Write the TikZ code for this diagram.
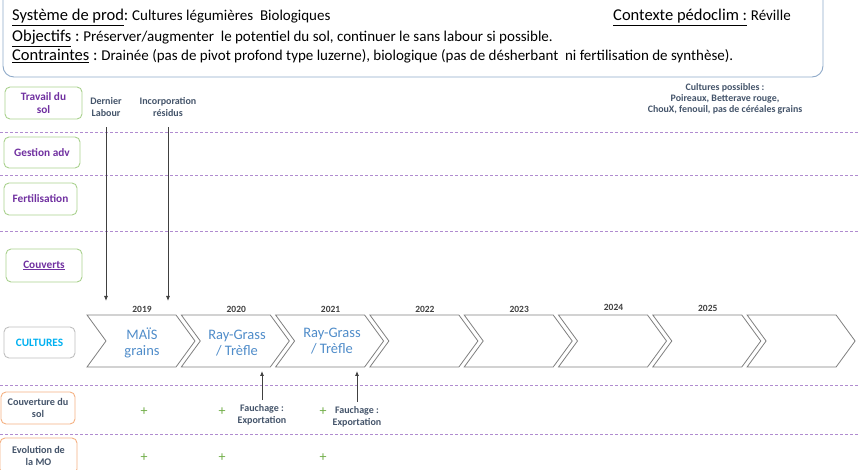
\documentclass[tikz,border=0pt]{standalone}
\usepackage{fontspec}
\setmainfont{Carlito}
\usetikzlibrary{arrows.meta}
\definecolor{labpurple}{HTML}{7030A0}
\definecolor{boxgreen}{HTML}{A9D18E}
\definecolor{dashpurple}{HTML}{B08CD0}
\definecolor{slate}{HTML}{44546A}
\definecolor{cyanlab}{HTML}{00B0F0}
\definecolor{orangebox}{HTML}{F4B183}
\definecolor{graybox}{HTML}{BFBFBF}
\definecolor{cropblue}{HTML}{4F8CC9}
\definecolor{topborder}{HTML}{8EA9C8}
\definecolor{plusgreen}{HTML}{70AD47}
\definecolor{chevgray}{HTML}{7F7F7F}
\begin{document}
\begin{tikzpicture}[x=1pt,y=-1pt,
  lab/.style={draw=boxgreen, line width=0.9pt, rounded corners=5pt, align=center,
    font=\fontsize{11.3}{12.5}\selectfont\bfseries, text=labpurple, inner sep=1pt},
  sep/.style={dashpurple, dash pattern=on 3pt off 2pt, line width=0.7pt},
  note/.style={align=center, font=\fontsize{10}{12}\selectfont\bfseries, text=slate},
  yr/.style={font=\fontsize{9.5}{10}\selectfont\bfseries, text=black!75},
  crop/.style={align=center, font=\fontsize{14.5}{16.5}\selectfont, text=cropblue},
  chev/.style={draw=chevgray, line width=0.8pt},
  arr/.style={draw=black!75, line width=0.8pt, -{Latex[length=5pt,width=4pt]}},
  plus/.style={text=plusgreen, font=\fontsize{14}{14}\selectfont},
  head/.style={anchor=base west, font=\fontsize{16.5}{19}\selectfont, inner sep=0pt},
  body/.style={anchor=base west, font=\fontsize{15}{17}\selectfont, inner sep=0pt}
]
\useasboundingbox (0,0) rectangle (860,470);
% top box
\draw[topborder, line width=0.9pt, rounded corners=11pt] (3,-12) rectangle (823,77);
\node[head] (h1) at (12,21) {\underline{Système de prod}:};
\node[body] (b1) at (h1.base east) {\ Cultures légumières\ \ Biologiques};
\node[head] (h2) at (12,42) {\underline{Objectifs} :};
\node[body] (b2) at (h2.base east) {\ Préserver/augmenter\ \ le potentiel du sol, continuer le sans labour si possible.};
\node[head] (h3) at (12,61) {\underline{Contraintes} :};
\node[body] (b3) at (h3.base east) {\ Drainée (pas de pivot profond type luzerne), biologique (pas de désherbant\ \ ni fertilisation de synthèse).};
\node[head] (h4) at (613,21) {\underline{Contexte pédoclim :}};
\node[body] (b4) at (h4.base east) {\ Réville};

% separators
\foreach \yy in {132,175,231,385,434} \draw[sep] (0,\yy) -- (860,\yy);

% row labels
\node[lab, minimum width=77pt, minimum height=32pt] (trav) at (43.5,103) {Travail du\\sol};
\node[lab, minimum width=76pt, minimum height=31pt] (gest) at (42,152.5) {Gestion adv};
\node[lab, minimum width=73pt, minimum height=32pt] (fert) at (40.5,199) {Fertilisation};
\node[lab, minimum width=76pt, minimum height=33pt] (couv) at (44,265.5) {\underline{Couverts}};
\node[lab, draw=graybox, text=cyanlab, minimum width=71pt, minimum height=31pt] (cult) at (39.5,342.5) {CULTURES};
\node[lab, draw=orangebox, text=slate, minimum width=74pt, minimum height=32pt, font=\fontsize{10.2}{12.5}\selectfont\bfseries] (cvsol) at (38,408) {Couverture du\\sol};
\node[lab, draw=orangebox, text=slate, minimum width=77pt, minimum height=36pt, font=\fontsize{10.2}{12.5}\selectfont\bfseries] (evo) at (38.5,456) {Evolution de\\la MO};

% notes
\node[note] (dl) at (106,107) {Dernier\\Labour};
\node[note] (inc) at (168,107) {Incorporation\\résidus};
\node[note, font=\fontsize{9.9}{11}\selectfont\bfseries] (poss) at (725,98.5) {Cultures possibles :\\Poireaux, Betterave rouge,\\ChouX, fenouil, pas de céréales grains};

% chevrons
\foreach \i/\yr/\yo in {0/2019/309,1/2020/309,2/2021/309,3/2022/309,4/2023/309,5/2024/307,6/2025/308,7/{}/309} {
  \pgfmathsetmacro{\xo}{87+94.3*\i}
  \draw[chev] (\xo,315) -- ++(89,0) -- ++(19,26) -- ++(-19,26) -- ++(-89,0) -- ++(19,-26) -- cycle;
  \node[yr] (y\i) at (\xo+55,\yo) {\yr};
}
\node[crop] (c1) at (142,343) {MAÏS\\grains};
\node[crop] (c2) at (237,343) {Ray-Grass\\/ Trèfle};
\node[crop] (c3) at (332,341) {Ray-Grass\\/ Trèfle};

% arrows down
\coordinate (dlend) at (106,301);
\coordinate (incend) at (168,301);
\draw[arr] ([yshift=-7pt]dl.south) -- (dlend);
\draw[arr] ([yshift=-7pt]inc.south) -- (incend);

% fauchage
\node[note] (f1) at (262,415) {Fauchage :\\Exportation};
\node[note] (f2) at (357,416.5) {Fauchage :\\Exportation};
\coordinate (f1t) at (262,371);
\coordinate (f2t) at (357,371);
\draw[arr] ([yshift=1pt]f1.north) -- (f1t);
\draw[arr] ([yshift=1pt]f2.north) -- (f2t);

% plus signs
\foreach \xx [count=\k] in {144,222,323} {
  \node[plus] (p\k) at (\xx,412) {+};
  \node[plus] (q\k) at (\xx,458) {+};
}
\end{tikzpicture}
\end{document}
